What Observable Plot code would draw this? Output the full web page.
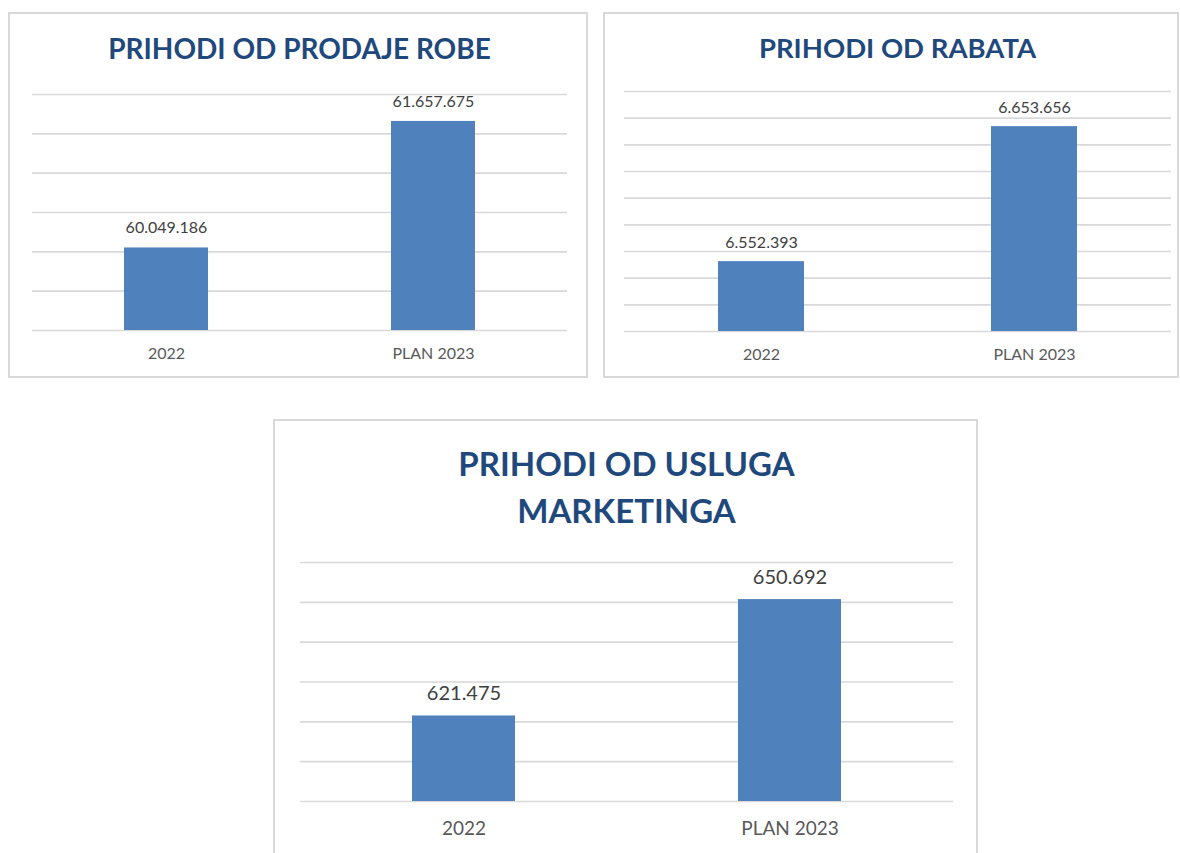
<!DOCTYPE html>
<html>
<head>
<meta charset="utf-8">
<script src="https://cdn.jsdelivr.net/npm/d3@7"></script>
<script src="https://cdn.jsdelivr.net/npm/@observablehq/plot@0.6"></script>
<style>
  html, body { margin: 0; padding: 0; background: #fff; }
  body { position: relative; width: 1180px; height: 853px; overflow: hidden; font-family: Lato, "Open Sans", sans-serif; }
  .panel { position: absolute; }
  .border { position: absolute; inset: 0; border: 2px solid #d9d9d9; box-sizing: border-box; }
  .title { position: absolute; text-align: center; color: #1F497D; font-weight: 700; line-height: 47px; white-space: nowrap; }
  .panel svg { position: absolute; left: 0; top: 0; }
</style>
</head>
<body>
<div id="p1" class="panel" style="left:8px;top:12px;width:580px;height:366px;"><div class="border"></div></div>
<div id="p2" class="panel" style="left:603px;top:12px;width:576px;height:366px;"><div class="border"></div></div>
<div id="p3" class="panel" style="left:273px;top:419px;width:705px;height:450px;"><div class="border"></div></div>
<script>
// ---- data ----
const categories = ["2022", "PLAN 2023"];
const prihodiProdajeRobe = [60049186, 61657675];
const prihodiRabata = [6552393, 6653656];
const prihodiMarketinga = [621475, 650692];
const titleRobe = ["PRIHODI OD PRODAJE ROBE"];
const titleRabata = ["PRIHODI OD RABATA"];
const titleMarketinga = ["PRIHODI OD USLUGA", "MARKETINGA"];
// value-axis range and gridline step
const axisRobe = [59000000, 62000000, 500000];
const axisRabata = [6500000, 6680000, 20000];
const axisMarketinga = [600000, 660000, 10000];

const fmt = d3.formatLocale({decimal: ",", thousands: ".", grouping: [3], currency: ["", ""]}).format(",d");

function chart(el, cfg) {
  const {values, axis, title, W, H, mt, mr, mb, ml, valueSize, catSize, dy, catPad, titleTop, titleSize} = cfg;
  const data = categories.map((c, i) => ({cat: c, value: values[i]}));
  const [lo, hi, step] = axis;
  const ticks = d3.range(lo, hi + step / 2, step);
  const svg = Plot.plot({
    width: W, height: H,
    marginTop: mt, marginRight: mr, marginBottom: mb, marginLeft: ml,
    style: {background: "transparent", fontFamily: "Lato, 'Open Sans', sans-serif", overflow: "visible"},
    x: {domain: categories, paddingInner: 0.685, paddingOuter: 0.3425, label: null},
    y: {domain: [lo, hi], axis: null},
    marks: [
      Plot.ruleY(ticks, {stroke: "#d9d9d9", strokeWidth: 1.6}),
      Plot.barY(data, {x: "cat", y1: () => lo, y2: "value", fill: "#4F81BD"}),
      Plot.text(data, {x: "cat", y: "value", text: d => fmt(d.value), dy: -dy, lineAnchor: "middle", fill: "#404040", fontSize: valueSize}),
      Plot.axisX({tickSize: 0, tickPadding: catPad, fontSize: catSize, color: "#595959", label: null})
    ]
  });
  el.appendChild(svg);
  const t = document.createElement("div");
  t.className = "title";
  t.style.left = ml + "px";
  t.style.width = (W - ml - mr) + "px";
  t.style.top = titleTop + "px";
  t.style.fontSize = titleSize + "px";
  t.innerHTML = title.join("<br>");
  el.appendChild(t);
}

chart(document.getElementById("p1"), {
  values: prihodiProdajeRobe, axis: axisRobe, title: titleRobe,
  W: 580, H: 366, mt: 82, mr: 21, mb: 48, ml: 24,
  valueSize: 16, catSize: 16, dy: 20, catPad: 17, titleTop: 13, titleSize: 28
});
chart(document.getElementById("p2"), {
  values: prihodiRabata, axis: axisRabata, title: titleRabata,
  W: 576, H: 366, mt: 79, mr: 8, mb: 47, ml: 21,
  valueSize: 16, catSize: 16, dy: 19, catPad: 17, titleTop: 12, titleSize: 27.5
});
chart(document.getElementById("p3"), {
  values: prihodiMarketinga, axis: axisMarketinga, title: titleMarketinga,
  W: 705, H: 450, mt: 143, mr: 25, mb: 68, ml: 27,
  valueSize: 20, catSize: 19, dy: 22, catPad: 20, titleTop: 21, titleSize: 33
});
</script>
</body>
</html>
